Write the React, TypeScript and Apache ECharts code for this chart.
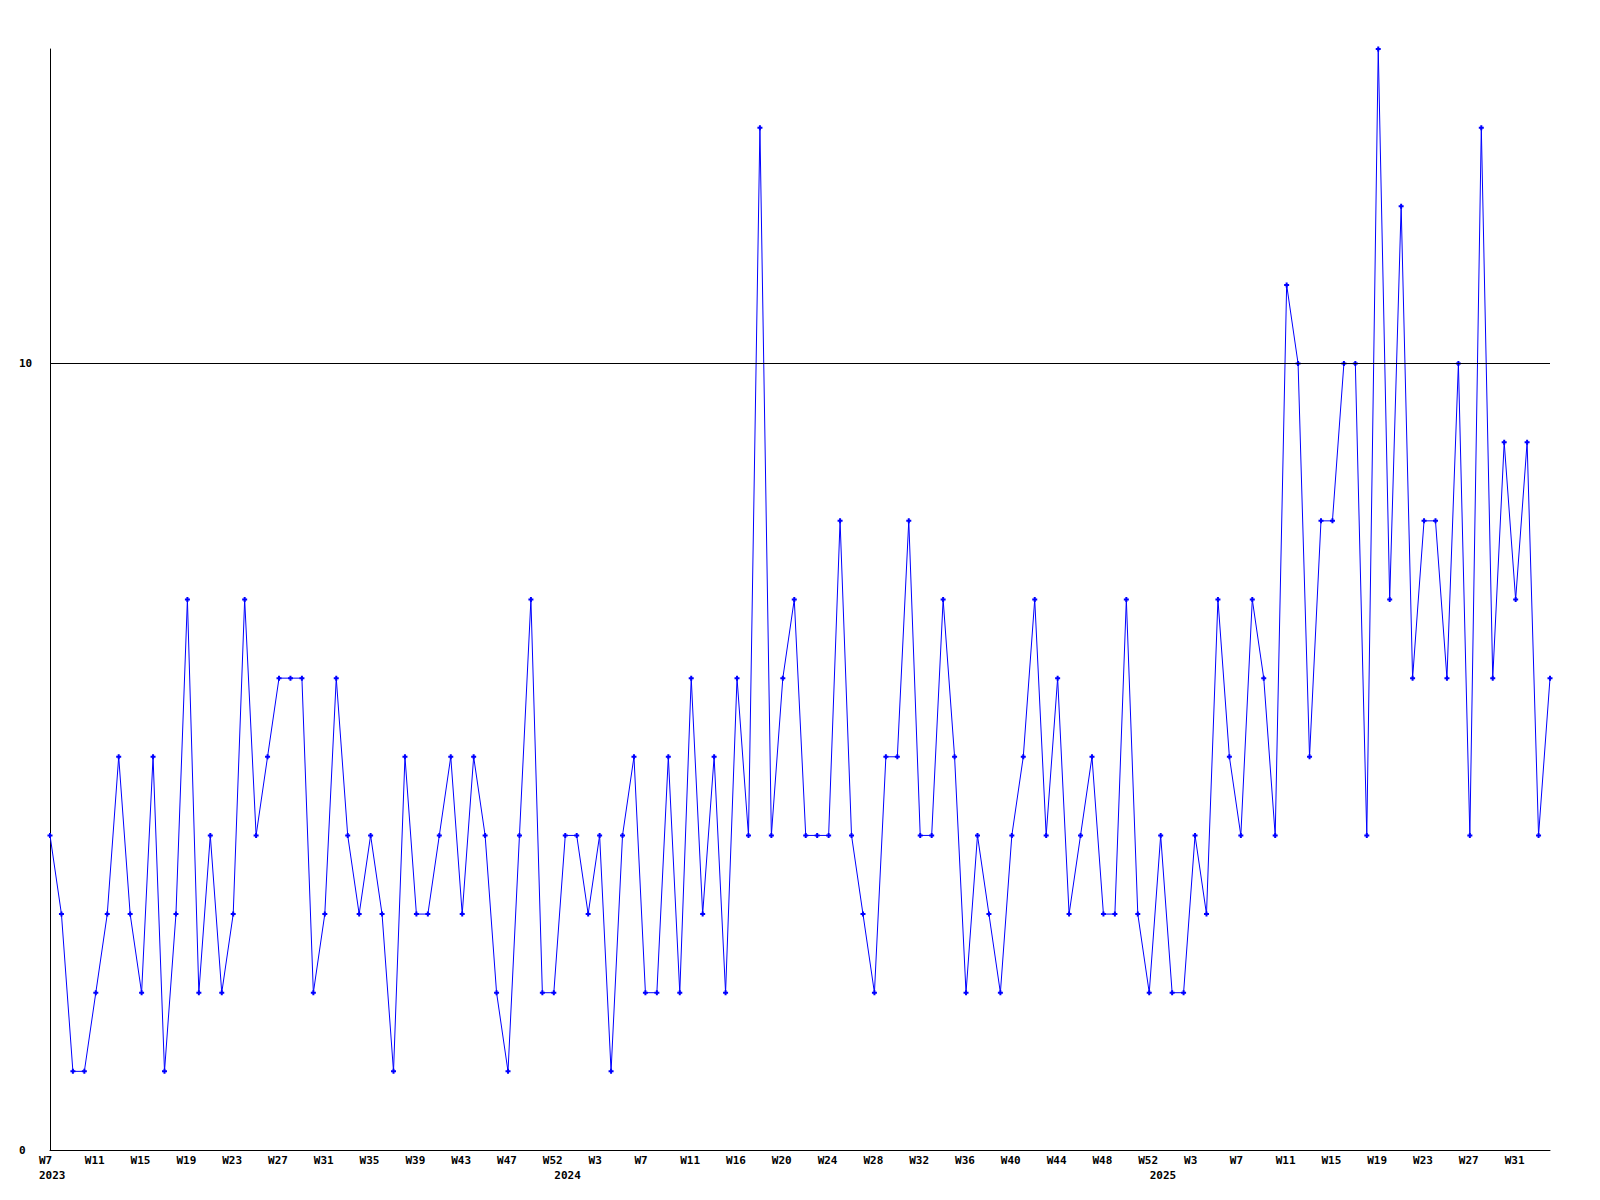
import React, { useEffect, useRef } from "react";
import * as echarts from "echarts";

// Weekly categories: 2023 W7 .. 2025 W34
const startWeek2023 = 7;
const weeksIn2023 = 52;
const weeksIn2024 = 52;
const lastWeek2025 = 34;

const categories: string[] = [];
for (let w = startWeek2023; w <= weeksIn2023; w++) categories.push(`2023-W${w}`);
for (let w = 1; w <= weeksIn2024; w++) categories.push(`2024-W${w}`);
for (let w = 1; w <= lastWeek2025; w++) categories.push(`2025-W${w}`);

const values = [
  4, 3, 1, 1, 2, 3, 5, 3, 2, 5,
  1, 3, 7, 2, 4, 2, 3, 7, 4, 5,
  6, 6, 6, 2, 3, 6, 4, 3, 4, 3,
  1, 5, 3, 3, 4, 5, 3, 5, 4, 2,
  1, 4, 7, 2, 2, 4, 4, 3, 4, 1,
  4, 5, 2, 2, 5, 2, 6, 3, 5, 2,
  6, 4, 13, 4, 6, 7, 4, 4, 4, 8,
  4, 3, 2, 5, 5, 8, 4, 4, 7, 5,
  2, 4, 3, 2, 4, 5, 7, 4, 6, 3,
  4, 5, 3, 3, 7, 3, 2, 4, 2, 2,
  4, 3, 7, 5, 4, 7, 6, 4, 11, 10,
  5, 8, 8, 10, 10, 4, 14, 7, 12, 6,
  8, 8, 6, 10, 4, 13, 6, 9, 7, 9,
  4, 6,
];

// Tick labels, one every 4 categories
const tickStep = 4;
const tickLabels = [
  "W7", "W11", "W15", "W19", "W23", "W27", "W31", "W35", "W39", "W43", "W47", "W52",
  "W3", "W7", "W11", "W16", "W20", "W24", "W28", "W32", "W36", "W40", "W44", "W48", "W52",
  "W3", "W7", "W11", "W15", "W19", "W23", "W27", "W31",
];

const yearIndices = [0, 45, 97];
const yearLabels = ["2023", "2024", "2025"];

const refLineValue = 10;
const yMax = 14;

const FONT = "DejaVu Sans Mono";

export default function App() {
  const ref = useRef<HTMLDivElement>(null);
  useEffect(() => {
    if (!ref.current) return;
    const chart = echarts.init(ref.current, null, { renderer: "svg" });
    const labelText = {
      fontFamily: FONT,
      fontWeight: "bold",
      fontSize: 11,
      color: "#000",
    };
    chart.setOption({
      animation: false,
      backgroundColor: "#fff",
      grid: { left: 50, right: 50, top: 49, bottom: 50, containLabel: false },
      xAxis: [
        {
          type: "category",
          data: categories,
          boundaryGap: false,
          axisLine: { show: true, lineStyle: { color: "#000", width: 1 } },
          axisTick: { show: false },
          splitLine: { show: false },
          axisLabel: {
            interval: (i: number) => i % tickStep === 0,
            margin: 5,
            align: "center",
            formatter: (_v: string, i: number) => {
              const t = tickLabels[Math.round(i / tickStep)];
              return t ? `{a|${t}}` : "";
            },
            rich: { a: { ...labelText, width: 22, align: "left" } },
          },
        },
        {
          type: "category",
          data: categories,
          boundaryGap: false,
          position: "bottom",
          offset: 15,
          axisLine: { show: false },
          axisTick: { show: false },
          splitLine: { show: false },
          axisLabel: {
            interval: (i: number) => yearIndices.includes(i),
            margin: 5,
            align: "center",
            formatter: (_v: string, i: number) => {
              const k = yearIndices.indexOf(i);
              return k >= 0 ? `{a|${yearLabels[k]}}` : "";
            },
            rich: { a: { ...labelText, width: 22, align: "left" } },
          },
        },
      ],
      yAxis: {
        type: "value",
        min: 0,
        max: yMax,
        interval: 10,
        axisLine: { show: true, lineStyle: { color: "#000", width: 1 } },
        axisTick: { show: false },
        splitLine: { show: false },
        axisLabel: {
          ...labelText,
          align: "left",
          margin: 31,
          formatter: (v: number) => (v === yMax ? "" : String(v)),
        },
      },
      series: [
        {
          type: "line",
          data: values,
          xAxisIndex: 0,
          yAxisIndex: 0,
          lineStyle: { color: "#0000ff", width: 1 },
          itemStyle: { color: "#0000ff" },
          symbol: "path://M1.5,0H3.5V1.5H5V3.5H3.5V5H1.5V3.5H0V1.5H1.5Z",
          symbolSize: 5,
          showSymbol: true,
          markLine: {
            silent: true,
            symbol: ["none", "none"],
            label: { show: false },
            lineStyle: { color: "#000", width: 1, type: "solid" },
            data: [{ yAxis: refLineValue }],
          },
        },
      ],
    });
    return () => chart.dispose();
  }, []);
  return (
    <div
      ref={ref}
      style={{ position: "fixed", left: 0, top: 0, width: 1600, height: 1200, background: "#fff" }}
    />
  );
}
